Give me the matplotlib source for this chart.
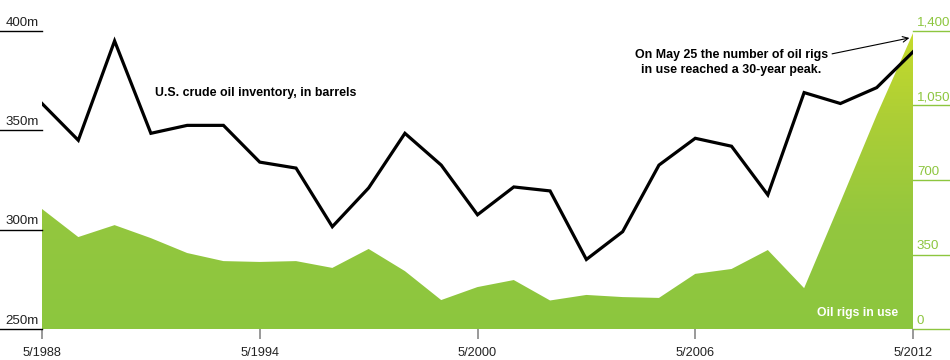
import numpy as np
import matplotlib
matplotlib.use("Agg")
import matplotlib.pyplot as plt
from matplotlib.colors import LinearSegmentedColormap

plt.rcParams['font.family'] = ['Liberation Sans', 'DejaVu Sans']

# yearly values, May of each year
years = list(range(1988, 2013))
inventory_m = [363.5, 345, 395, 348.5, 352.5, 352.5, 334, 331, 301.5, 321,
               348.5, 332.5, 307.5, 321.5, 319.5, 285, 299, 332.5, 346, 342,
               317.5, 369, 363.5, 371.5, 389.5]
oil_rigs = [564, 432, 488, 427, 357, 319, 315, 319, 287, 376,
            272, 136, 197, 230, 134, 160, 150, 146, 259, 282,
            371, 192, 596, 1005, 1390]

left_ticks = [250, 300, 350, 400]
left_labels = ['250m', '300m', '350m', '400m']
right_ticks = [0, 350, 700, 1050, 1400]
right_labels = ['0', '350', '700', '1,050', '1,400']
x_ticks = [1988, 1994, 2000, 2006, 2012]
x_labels = ['5/1988', '5/1994', '5/2000', '5/2006', '5/2012']

green = '#8dc63f'
W, H = 950, 360
fig = plt.figure(figsize=(W / 100, H / 100), dpi=100)
x0, x1, yb, yt = 42, 913, 329, 31
ax = fig.add_axes([x0 / W, (H - yb) / H, (x1 - x0) / W, (yb - yt) / H])
ax2 = ax.twinx()
ax.set_zorder(ax2.get_zorder() + 1)
ax.patch.set_visible(False)

ax.set_xlim(1988, 2012)
ax.set_ylim(250, 400)
ax2.set_ylim(0, 1400)
for a in (ax, ax2):
    for s in a.spines.values():
        s.set_visible(False)
    a.set_yticks([])

# rigs area with vertical gradient
poly = ax2.fill_between(years, 0, oil_rigs, color='none', lw=0)
cmap = LinearSegmentedColormap.from_list(
    'g', [(0, '#8cc63f'), (0.35, '#93c73e'), (0.7, '#acce36'), (1, '#c6db2b')])
grad = np.linspace(0, 1, 256).reshape(-1, 1)
im = ax2.imshow(grad, cmap=cmap, aspect='auto', origin='lower',
                extent=[1988, 2012, 0, 1400], zorder=1)
path = poly.get_paths()[0]
im.set_clip_path(path, transform=ax2.transData)

# inventory line
ax.plot(years, inventory_m, color='black', lw=2.3, solid_joinstyle='miter', zorder=3)

# x ticks
ax.set_xticks(x_ticks)
ax.set_xticklabels(x_labels, fontsize=9.2, color='#222222')
ax.tick_params(axis='x', length=7, width=1.2, color='#888888', pad=6)

# left stub gridlines + labels
lt = ax.get_yaxis_transform()
for v, lab in zip(left_ticks, left_labels):
    ax.plot([-x0 / (x1 - x0), 0], [v, v], color='black', lw=1, transform=lt, clip_on=False)
    ax.text(-3 / (x1 - x0), v + 1.2, lab, transform=lt, ha='right', va='bottom',
            fontsize=9.6, color='#222222')

# right stub gridlines + labels
rt = ax2.get_yaxis_transform()
for v, lab in zip(right_ticks, right_labels):
    ax2.plot([1, 1 + (W - x1) / (x1 - x0)], [v, v], color=green, lw=1, transform=rt, clip_on=False)
    ax2.text(1 + 4 / (x1 - x0), v + 10, lab, transform=rt, ha='left', va='bottom',
             fontsize=9.6, color=green)

ax.text(1991.1, 369, 'U.S. crude oil inventory, in barrels', fontsize=8.9,
        fontweight='bold', ha='left', va='center')
ax.text(2007.0, 384, 'On May 25 the number of oil rigs\nin use reached a 30-year peak.',
        fontsize=8.9, fontweight='bold', ha='center', va='center', linespacing=1.35)
ax.annotate('', xy=(2011.9, 396.5), xytext=(2009.77, 388.5),
            arrowprops=dict(arrowstyle='->', lw=0.8, color='black',
                            shrinkA=0, shrinkB=0), annotation_clip=False)
ax2.text(2011.6, 75, 'Oil rigs in use', fontsize=8.8, fontweight='bold',
         color='white', ha='right', va='center', zorder=5)

fig.savefig('out.png', dpi=100)
